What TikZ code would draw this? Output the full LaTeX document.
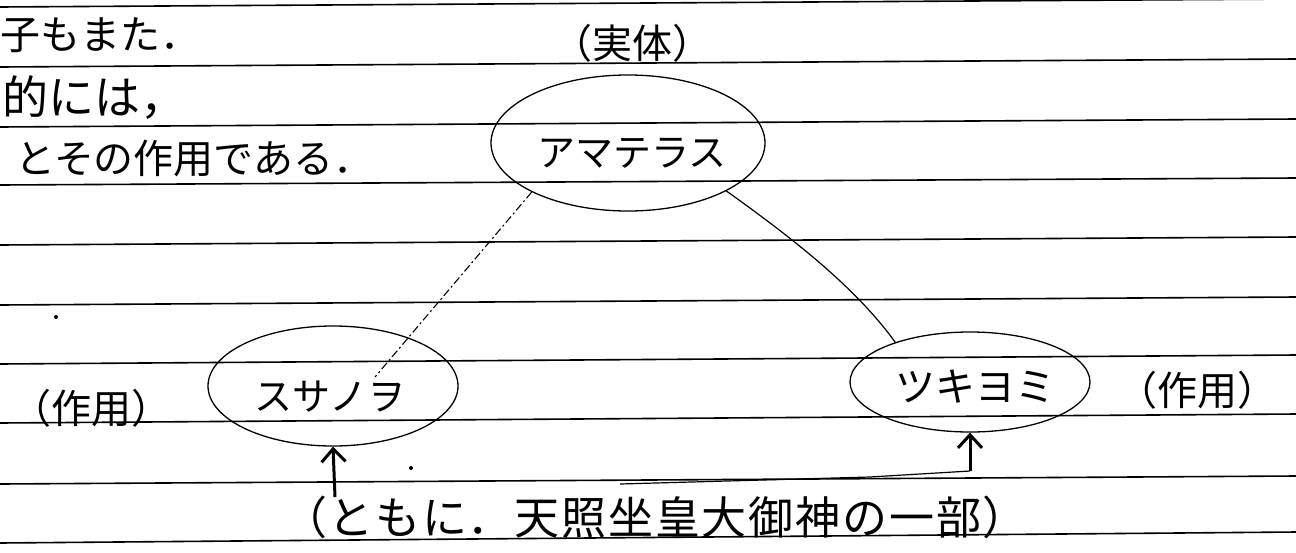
\documentclass[tikz,border=0pt]{standalone}
\usepackage{fontspec}
\newfontfamily\jp{Noto Sans CJK JP}
\newfontfamily\jpwide[LetterSpace=4]{Noto Sans CJK JP}
\usetikzlibrary{shapes.geometric,arrows.meta}
\begin{document}
\begin{tikzpicture}[x=1pt,y=-1pt,
  rule/.style={line width=1.6pt},
  oval/.style={draw, ellipse, line width=1.3pt, inner sep=0pt},
  hand/.style={inner sep=0pt, font=\jp\fontsize{40}{40}\selectfont},
  handL/.style={inner sep=0pt, font=\jp\fontsize{46}{46}\selectfont},
  handW/.style={inner sep=0pt, font=\jpwide\fontsize{45}{45}\selectfont},
  handS/.style={inner sep=0pt, font=\jp\fontsize{38}{38}\selectfont},
  arr/.style={line width=3pt, -{Straight Barb[length=13pt,width=24pt,line width=3pt]}},
  link/.style={line width=1.2pt},
  dashlink/.style={line width=1.1pt, dash pattern=on 8pt off 3pt on 2pt off 3pt}]
\useasboundingbox (0,0) rectangle (1296,552);
\fill[white] (0,0) rectangle (1296,552);
% ruled paper
\foreach \a/\b in {7/-1, 67/59, 127/119, 185/178, 245/237, 305/297, 364/355, 423/414, 484/476, 543/532}
  \draw[rule] (0,\a) -- (1296,\b);
% text lines at top left
\node[hand, anchor=west] (l1) at (0,35) {子もまた．};
\node[handL, anchor=west] (l2) at (2,98) {的には，};
\node[hand, anchor=west] (l3) at (15,158) {とその作用である．};
% labels
\node[hand] (jittai) at (632,43) {（実体）};
\node[handS] (amaT) at (632,153) {アマテラス};
\node[handS] (susaT) at (330,397) {スサノヲ};
\node[hand] (tsuT) at (975,387) {ツキヨミ};
\node[hand] (sayoL) at (91,408) {（作用）};
\node[hand] (sayoR) at (1197,390) {（作用）};
\node[handW] (bottom) at (655,517) {（ともに．天照坐皇大御神の一部）};
% ellipses
\node[oval, minimum width=274pt, minimum height=136pt] (amaE) at (628,143) {};
\node[oval, minimum width=250pt, minimum height=120pt] (susaE) at (333,386) {};
\node[oval, minimum width=240pt, minimum height=100pt] (tsuE) at (970,382) {};
% stray dots
\fill (56,317) circle (2pt);
\fill (411,468) circle (2pt);
% connectors
\coordinate (dashEnd) at (375,377);
\draw[dashlink] (amaE.207) -- (dashEnd);
\draw[link] (amaE.334) .. controls (795,240) and (856,288) .. (tsuE.152);
\coordinate (sbase) at (335,497);
\draw[arr] (sbase) -- (susaE.south);
\coordinate (kstart) at (620,484);
\coordinate (kbase) at (970,471);
\draw[link] (kstart) -- (870,477) -- (kbase);
\draw[arr] (kbase) -- (tsuE.south);
\end{tikzpicture}
\end{document}
